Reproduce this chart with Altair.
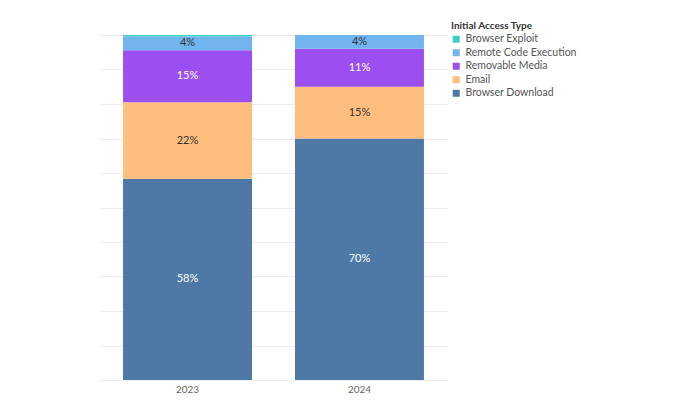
import altair as alt
import pandas as pd

years = ["2023", "2024"]
types = ["Browser Download", "Email", "Removable Media", "Remote Code Execution", "Browser Exploit"]
values_2023 = [58, 22, 15, 4, 0.4]
values_2024 = [70, 15, 11, 4, 0]
colors = ["#4e79a7", "#ffbe7d", "#9b4ff0", "#71b4ef", "#3ecfc6"]
legend_order = ["Browser Exploit", "Remote Code Execution", "Removable Media", "Email", "Browser Download"]

rows = []
for y, vals in zip(years, [values_2023, values_2024]):
    for i, (t, v) in enumerate(zip(types, vals)):
        rows.append({"year": y, "type": t, "value": v, "idx": i})
df = pd.DataFrame(rows)

FONT = "Lato"

base = alt.Chart(df)

bars = base.mark_bar().encode(
    x=alt.X("year:N", title=None,
            scale=alt.Scale(paddingInner=0.25, paddingOuter=0.134),
            axis=alt.Axis(labelAngle=0, ticks=False, domain=False, labelColor="#666",
                          labelFontSize=10, labelPadding=4, labelFont=FONT)),
    y=alt.Y("value:Q", stack="normalize", title=None,
            scale=alt.Scale(domain=[0, 1], nice=False),
            axis=alt.Axis(labels=False, ticks=False, domain=False, grid=True,
                          tickCount=10, gridColor="#e6e6e6", gridWidth=0.8)),
    color=alt.Color("type:N",
                    scale=alt.Scale(domain=types, range=colors),
                    sort=legend_order,
                    legend=alt.Legend(title="Initial Access Type", orient="none",
                                      legendX=351, legendY=-14, symbolType="square",
                                      symbolSize=49, titleFontSize=10, labelFontSize=10.5,
                                      titleFont=FONT, labelFont=FONT, titleColor="#333",
                                      labelColor="#555", titlePadding=3, rowPadding=2.5,
                                      labelOffset=4,
                                      symbolStrokeWidth=0, values=legend_order)),
    order=alt.Order("idx:Q", sort="ascending"),
)

text = base.transform_stack(
    stack="value", as_=["y0", "y1"], groupby=["year"], offset="normalize",
    sort=[alt.SortField("idx", order="ascending")]
).transform_calculate(
    mid="(datum.y0 + datum.y1) / 2",
    label="datum.value + '%'"
).transform_filter("datum.value >= 3").mark_text(fontSize=11, font=FONT).encode(
    x=alt.X("year:N"),
    y=alt.Y("mid:Q"),
    text="label:N",
    color=alt.condition("datum.type == 'Browser Download' || datum.type == 'Removable Media'",
                        alt.value("white"), alt.value("#333")),
)

chart = alt.layer(bars, text).properties(
    width=347, height=345,
    padding={"left": 92, "top": 13, "right": 5, "bottom": 5},
).configure_view(stroke=None)

chart.save("out.html", embed_options={"renderer": "svg", "actions": False})
